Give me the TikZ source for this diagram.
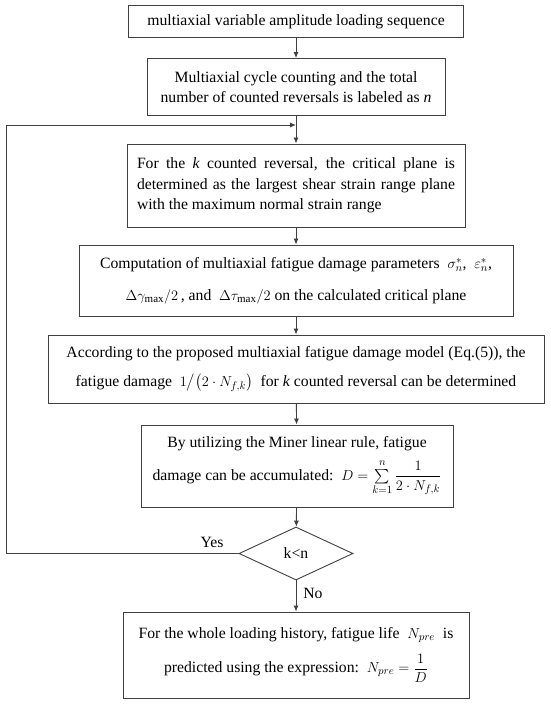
\documentclass[tikz,border=0pt]{standalone}
\usepackage{amsmath}
\usepackage{fontspec}
\setmainfont{Liberation Serif}
\usetikzlibrary{arrows.meta,shapes.geometric}
\newcommand{\fs}{\fontsize{15.7}{20}\selectfont}
\begin{document}
\begin{tikzpicture}[x=1pt,y=-1pt,
  box/.style={draw=black!75,line width=0.9pt,inner sep=0pt,align=center,font=\fs},
  arr/.style={draw=black!75,line width=0.9pt,-{Latex[length=6pt,width=5pt]}},
  lbl/.style={font=\fs,inner sep=0pt}]
\path[use as bounding box] (0,0) rectangle (550,708);
\fill[white] (0,0) rectangle (550,708);

\node[box,minimum width=335pt,minimum height=32pt] (b1) at (296,21.5)
  {multiaxial variable amplitude loading sequence};
\node[box,minimum width=298pt,minimum height=57pt] (b2) at (296,87)
  {Multiaxial cycle counting and the total\\number of counted reversals is labeled as \textit{n}};
\node[box,minimum width=338pt,minimum height=83pt,text width=318pt,align=justify,
  font=\fontsize{15.7}{20.5}\selectfont] (b3) at (296,185.5)
  {For the \textit{k} counted reversal, the critical plane is\linebreak
   determined as the largest shear strain range plane\linebreak
   with the maximum normal strain range};
\node[box,minimum width=434pt,minimum height=71pt] (b4) at (296,280.5)
  {Computation of multiaxial fatigue damage parameters~~$\sigma_n^{*}$,~~$\varepsilon_n^{*}$,\\[12pt]
   $\Delta\gamma_{\max}/2$\,, and~~$\Delta\tau_{\max}/2$ on the calculated critical plane};
\node[box,minimum width=496pt,minimum height=68pt] (b5) at (296,369)
  {According to the proposed multiaxial fatigue damage model (Eq.(5)), the\\[9pt]
   fatigue damage~~$1\big/\big(2\cdot N_{f,k}\big)$~~for \textit{k} counted reversal can be determined};
\node[box,minimum width=312pt,minimum height=82pt] (b6) at (297,466)
  {By utilizing the Miner linear rule, fatigue\\[7pt]
   damage can be accumulated:~~$D=\sum\limits_{k=1}^{\raisebox{1.5pt}{$\scriptstyle n$}}\dfrac{1}{2\cdot N_{f,k}}$};
\node[draw=black!75,line width=0.9pt,diamond,aspect=2.15,minimum width=114pt,minimum height=53pt,
  inner sep=0pt,font=\fs] (d) at (296,553.5) {k<n};
\node[box,minimum width=346pt,minimum height=86pt] (b7) at (296,655)
  {For the whole loading history, fatigue life~~$N_{pre}$~~is\\[10pt]
   predicted using the expression:~~$N_{pre}=\dfrac{1}{D}$};

\coordinate (fb) at (296,125);
\coordinate (cl) at (6,553.5);
\coordinate (cu) at (6,125);

\draw[arr] (b1) -- (b2);
\draw[arr] (b2) -- (b3);
\draw[arr] (b3) -- (b4);
\draw[arr] (b4) -- (b5);
\draw[arr] (b5) -- (b6);
\draw[arr] (b6) -- (d);
\draw[arr] (d) -- (b7);
\draw[arr] (d.west) -- (cl) -- (cu) -- (fb);

\node[lbl] (yes) at (212,542) {Yes};
\node[lbl] (no) at (313,593) {No};
\end{tikzpicture}
\end{document}
